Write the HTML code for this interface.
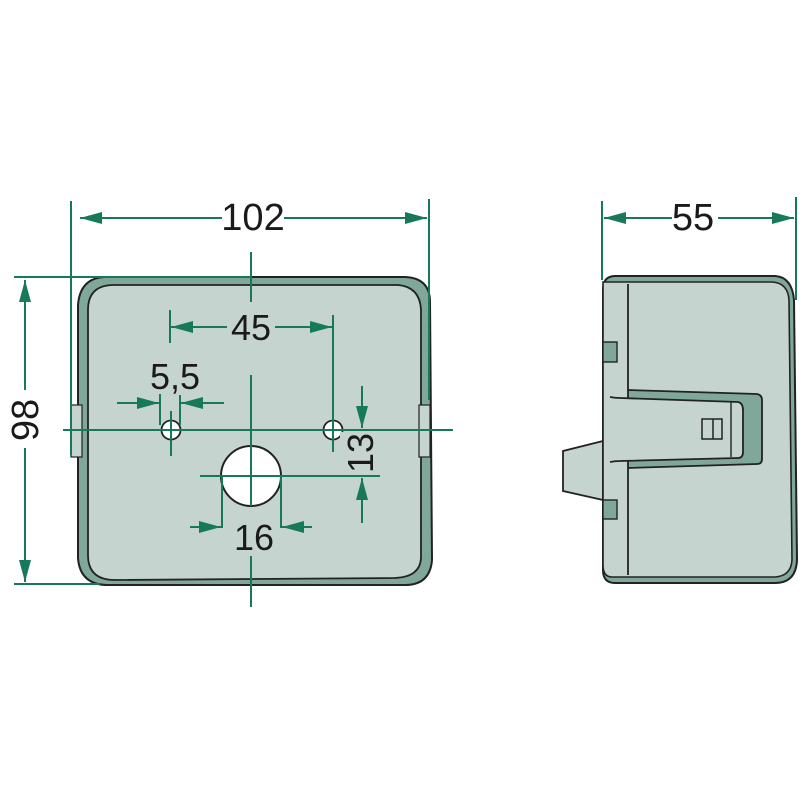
<!DOCTYPE html>
<html><head><style>body{margin:0;background:#fff}svg{display:block}</style></head><body>
<svg width="800" height="800" viewBox="0 0 800 800" xmlns="http://www.w3.org/2000/svg" font-family="'Liberation Sans',sans-serif">
<defs>
<marker id="b" viewBox="0 0 22 12" refX="22" refY="6" markerWidth="22" markerHeight="12" markerUnits="userSpaceOnUse" orient="auto" preserveAspectRatio="none"><path d="M0,0L22,6L0,12z" fill="#167a5a"/></marker>
</defs>
<!-- front view body -->
<path d="M105,277 L405,277 Q430,278 430,302 L432,560 Q430,585 405,585 L108,585 Q80,585 78,558 L78,305 Q80,278 105,277Z" fill="#7fa89b" stroke="#222" stroke-width="2"/>
<path d="M112,285 L398,285 Q420,287 421,310 L421,558 Q420,577 395,578 L115,580 Q88,580 88,555 L88,310 Q88,286 112,285Z" fill="#c6d4d0" stroke="#222" stroke-width="1.8"/>
<rect x="71" y="405" width="11" height="52" fill="#c6d4d0" stroke="#222" stroke-width="1.2"/>
<rect x="419" y="405" width="11" height="52" fill="#c6d4d0" stroke="#222" stroke-width="1.2"/>
<circle cx="171" cy="430" r="9.5" fill="#fff" stroke="#222" stroke-width="1.8"/>
<circle cx="333" cy="430" r="9.5" fill="#fff" stroke="#222" stroke-width="1.8"/>
<circle cx="251" cy="476" r="30" fill="#fff" stroke="#222" stroke-width="2"/>
<g stroke="#167a5a" stroke-width="2" fill="none">
<line x1="71" y1="201" x2="71" y2="455"/>
<line x1="429" y1="199" x2="429" y2="400"/>
<line x1="222" y1="218" x2="80" y2="218" marker-end="url(#b)"/>
<line x1="284" y1="218" x2="427" y2="218" marker-end="url(#b)"/>
<line x1="14" y1="277" x2="250" y2="277"/>
<line x1="14" y1="584" x2="100" y2="584"/>
<line x1="25" y1="390" x2="25" y2="280" marker-end="url(#b)"/>
<line x1="25" y1="448" x2="25" y2="582" marker-end="url(#b)"/>
<line x1="251" y1="252" x2="251" y2="302"/>
<line x1="251" y1="375" x2="251" y2="506"/>
<line x1="251" y1="556" x2="251" y2="607"/>
<line x1="63" y1="430" x2="453" y2="430"/>
<line x1="170" y1="310" x2="170" y2="343"/>
<line x1="333" y1="315" x2="333" y2="452"/>
<line x1="227" y1="327" x2="171" y2="327" marker-end="url(#b)"/>
<line x1="275" y1="327" x2="332" y2="327" marker-end="url(#b)"/>
<line x1="160" y1="394" x2="160" y2="425"/>
<line x1="180" y1="395" x2="180" y2="425"/>
<line x1="171" y1="411" x2="171" y2="456"/>
<line x1="117" y1="403" x2="159" y2="403" marker-end="url(#b)"/>
<line x1="224" y1="403" x2="181" y2="403" marker-end="url(#b)"/>
<line x1="200" y1="476" x2="380" y2="476"/>
<line x1="222" y1="476" x2="222" y2="528"/>
<line x1="281" y1="476" x2="281" y2="528"/>
<line x1="190" y1="527" x2="221" y2="527" marker-end="url(#b)"/>
<line x1="312" y1="527" x2="282" y2="527" marker-end="url(#b)"/>
<line x1="362" y1="386" x2="362" y2="428" marker-end="url(#b)"/>
<line x1="362" y1="523" x2="362" y2="478" marker-end="url(#b)"/>
</g>
<g fill="#1a1a1a" text-anchor="middle">
<rect x="222" y="198" width="62" height="36" fill="#fff"/>
<text x="253" y="230" font-size="38">102</text>
<rect x="4" y="392" width="40" height="56" fill="#fff"/>
<text transform="translate(38,420) rotate(-90)" font-size="38">98</text>
<rect x="227" y="308" width="48" height="36" fill="#c6d4d0"/>
<text x="251" y="340" font-size="36">45</text>
<text x="175" y="389" font-size="36">5,5</text>
<text x="254" y="550" font-size="36">16</text>
<rect x="340" y="432" width="40" height="42" fill="#c6d4d0"/>
<text transform="translate(373,453) rotate(-90)" font-size="36">13</text>
</g>
<!-- side view -->
<g stroke="#167a5a" stroke-width="2">
<line x1="602" y1="201" x2="602" y2="280"/>
<line x1="796" y1="197" x2="796" y2="300"/>
<line x1="672" y1="218" x2="604" y2="218" marker-end="url(#b)"/>
<line x1="718" y1="218" x2="794" y2="218" marker-end="url(#b)"/>
</g>
<text x="693" y="230" font-size="38" text-anchor="middle" fill="#1a1a1a">55</text>
<path d="M603,441 L563,451 L563,491 L603,500Z" fill="#c6d4d0" stroke="#222" stroke-width="1.8"/>
<path d="M615,276 L775,276 Q792,277 794,300 L797,560 Q796,583 775,583 L615,583 Q603,583 603,570 L603,290 Q603,276 615,276Z" fill="#7fa89b" stroke="#222" stroke-width="2"/>
<path d="M603,282 L772,282 Q788,283 789,300 L792,560 Q791,576 775,577 L612,577 Q603,577 603,565Z" fill="#c6d4d0" stroke="#222" stroke-width="1.6"/>
<rect x="603" y="342" width="14" height="20" fill="#7fa89b" stroke="#222" stroke-width="1.4"/>
<rect x="603" y="500" width="14" height="19" fill="#7fa89b" stroke="#222" stroke-width="1.4"/>
<path d="M628,390 L757,394 Q762,395 762,400 L762,459 Q762,464 757,464 L628,468Z" fill="#7fa89b" stroke="#222" stroke-width="1.8"/>
<path d="M612,397 Q615,398 620,398 L738,402 Q743,403 743,410 L743,452 Q743,458 738,458 L620,461 Q615,461 612,462 L612,397Z" fill="#c6d4d0" stroke="none"/>
<path d="M610,397 Q615,398 620,398 L738,402 Q743,403 743,410 L743,452 Q743,458 738,458 L620,461 Q615,461 610,462" fill="none" stroke="#222" stroke-width="1.8"/>
<line x1="731" y1="402" x2="731" y2="457" stroke="#222" stroke-width="1.4"/>
<line x1="628" y1="284" x2="628" y2="390" stroke="#222" stroke-width="1.8"/>
<line x1="628" y1="468" x2="628" y2="575" stroke="#222" stroke-width="1.8"/>
<rect x="702" y="419" width="20" height="20" fill="none" stroke="#222" stroke-width="1.5"/>
<line x1="713" y1="419" x2="713" y2="439" stroke="#222" stroke-width="1.5"/>
</svg>
</body></html>
